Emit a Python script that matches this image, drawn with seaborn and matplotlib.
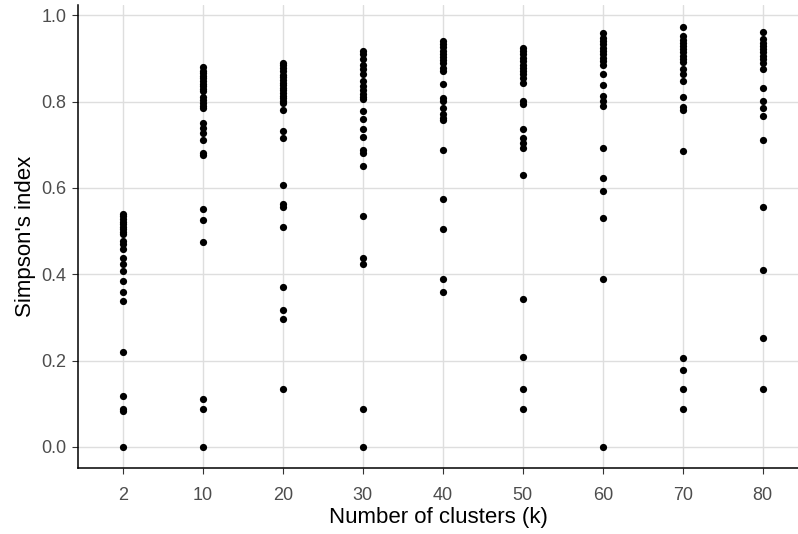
import pandas as pd
import matplotlib
matplotlib.use("Agg")
import matplotlib.pyplot as plt
import seaborn as sns

# Simpson's index per run, grouped by number of clusters (k)
clusters = ["2", "10", "20", "30", "40", "50", "60", "70", "80"]

k2 = [0.540, 0.534, 0.528, 0.522, 0.516, 0.510, 0.504, 0.498, 0.493, 0.478,
      0.470, 0.458, 0.437, 0.423, 0.408, 0.384, 0.359, 0.338, 0.220, 0.117,
      0.087, 0.082, 0.0]
k10 = [0.881, 0.872, 0.866, 0.860, 0.854, 0.848, 0.842, 0.836, 0.830, 0.825,
       0.810, 0.803, 0.797, 0.791, 0.786, 0.751, 0.740, 0.727, 0.710, 0.681,
       0.676, 0.552, 0.526, 0.475, 0.110, 0.087, 0.0]
k20 = [0.890, 0.884, 0.878, 0.872, 0.862, 0.856, 0.850, 0.844, 0.838, 0.832,
       0.826, 0.820, 0.814, 0.808, 0.802, 0.796, 0.780, 0.732, 0.716, 0.608,
       0.562, 0.557, 0.510, 0.371, 0.317, 0.296, 0.135]
k30 = [0.917, 0.910, 0.898, 0.886, 0.875, 0.863, 0.848, 0.836, 0.828, 0.817,
       0.810, 0.805, 0.778, 0.759, 0.736, 0.719, 0.688, 0.682, 0.651, 0.535,
       0.438, 0.423, 0.087, 0.0]
k40 = [0.940, 0.933, 0.926, 0.918, 0.911, 0.904, 0.897, 0.890, 0.878, 0.871,
       0.840, 0.809, 0.802, 0.786, 0.771, 0.763, 0.758, 0.688, 0.575, 0.505,
       0.388, 0.359]
k50 = [0.925, 0.917, 0.910, 0.902, 0.894, 0.886, 0.879, 0.871, 0.863, 0.855,
       0.844, 0.801, 0.794, 0.736, 0.716, 0.705, 0.693, 0.629, 0.342, 0.209,
       0.134, 0.088]
k60 = [0.958, 0.948, 0.940, 0.933, 0.925, 0.917, 0.910, 0.902, 0.894, 0.886,
       0.863, 0.838, 0.813, 0.802, 0.790, 0.693, 0.622, 0.592, 0.531, 0.388,
       0.0]
k70 = [0.974, 0.952, 0.944, 0.937, 0.929, 0.921, 0.914, 0.906, 0.898, 0.891,
       0.875, 0.863, 0.848, 0.811, 0.788, 0.781, 0.685, 0.207, 0.177, 0.134,
       0.087]
k80 = [0.962, 0.945, 0.937, 0.929, 0.922, 0.914, 0.906, 0.898, 0.890, 0.875,
       0.832, 0.802, 0.786, 0.767, 0.711, 0.556, 0.410, 0.252, 0.135]

values = [k2, k10, k20, k30, k40, k50, k60, k70, k80]
df = pd.DataFrame(
    [(k, v) for k, vals in zip(clusters, values) for v in vals],
    columns=["k", "simpson"],
)

sns.set_style("white")
plt.rcParams["font.family"] = ["Liberation Sans", "DejaVu Sans"]

fig = plt.figure(figsize=(7.98, 5.34), dpi=100)
ax = fig.add_axes([78 / 798, 66 / 534, 720 / 798, 463 / 534])

sns.stripplot(data=df, x="k", y="simpson", order=clusters, jitter=False,
              color="black", size=5.2, linewidth=0, ax=ax, zorder=3)

ax.set_xlim(-0.56, 8.44)
ax.set_ylim(-0.049, 1.024)
ax.set_yticks([0.0, 0.2, 0.4, 0.6, 0.8, 1.0])
ax.set_yticklabels(["0.0", "0.2", "0.4", "0.6", "0.8", "1.0"])

ax.grid(True, color="#dedede", linewidth=1.0, zorder=0)
ax.set_axisbelow(True)

for side in ["top", "right"]:
    ax.spines[side].set_visible(False)
for side in ["left", "bottom"]:
    ax.spines[side].set_color("black")
    ax.spines[side].set_linewidth(1.1)

ax.tick_params(axis="both", which="major", length=4.5, width=0.8,
               color="#333333", labelcolor="#4d4d4d", labelsize=13,
               direction="out", left=True, bottom=True, pad=4)
ax.tick_params(axis="x", pad=9)

ax.set_xlabel("Number of clusters (k)", fontsize=16, color="black", labelpad=2)
ax.set_ylabel("Simpson's index", fontsize=16, color="black", labelpad=4)

fig.savefig("out.png", dpi=100)
